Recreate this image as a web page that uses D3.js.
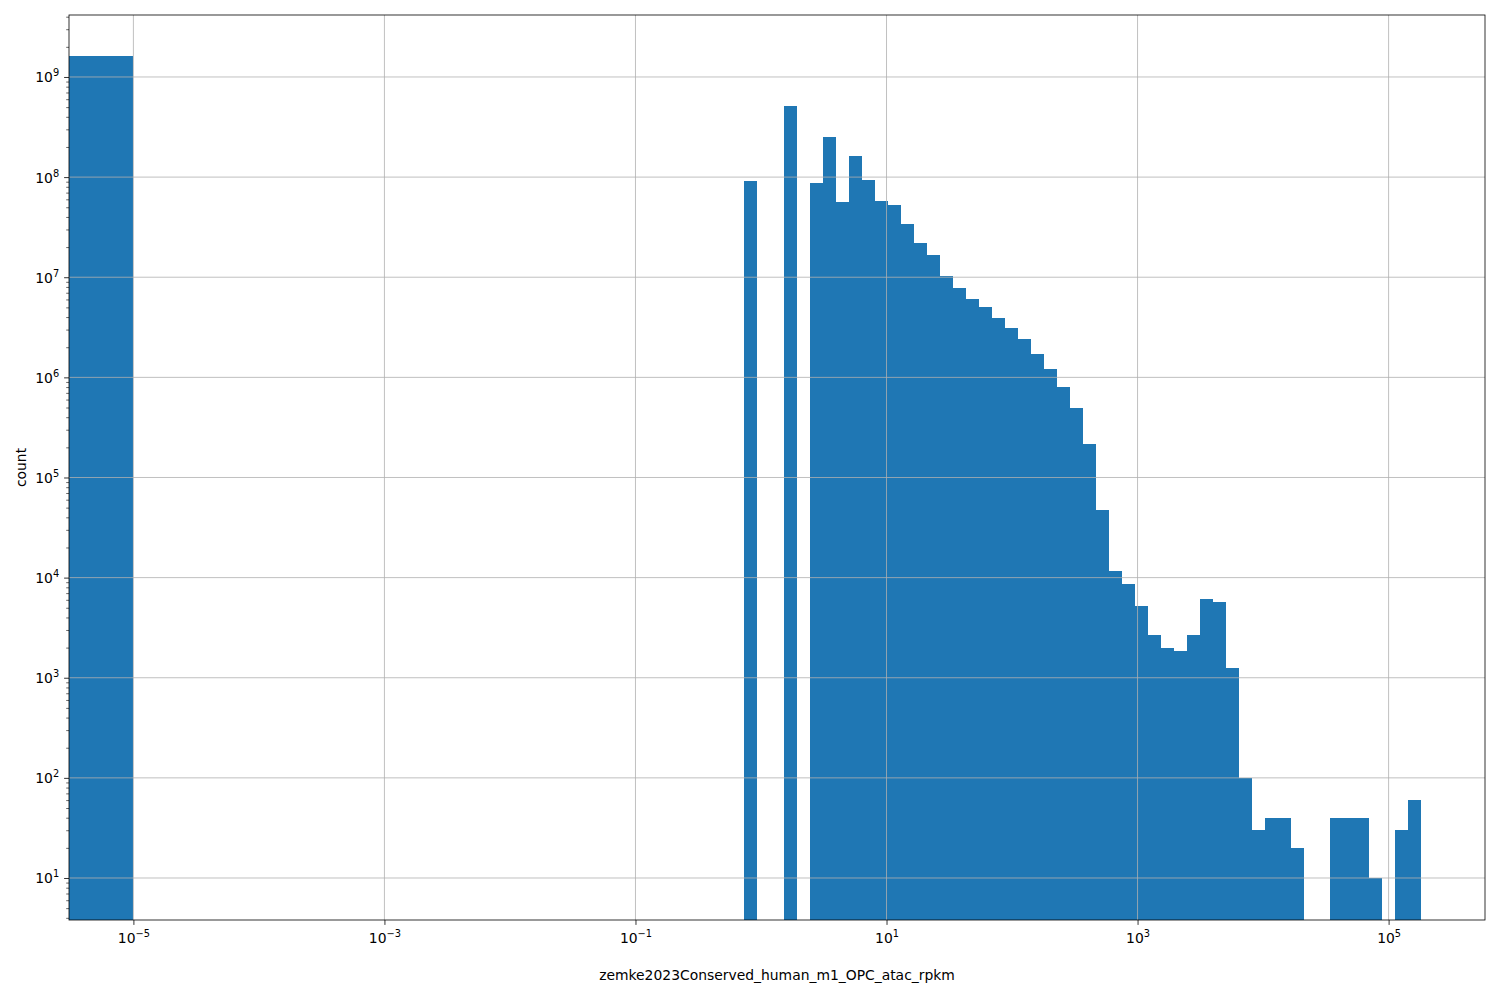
<!DOCTYPE html>
<html>
<head>
<meta charset="utf-8">
<script src="https://cdn.jsdelivr.net/npm/d3@7"></script>
<style>
  body { margin: 0; background: #fff; }
  text { font-family: "DejaVu Sans", sans-serif; }
</style>
</head>
<body>
<svg id="chart" width="1500" height="1000"></svg>
<script>
// ---- data ----
// histogram: first bin [0, 1e-5], then 99 log-spaced bins from 1e-5 to ~1.8e5
const zeroBinUpper = 1e-5;
const zeroBinCount = 1.62e9;
const logBinStart = -5;       // log10 of first log-bin edge
const logBinEnd = 5.255;      // log10 of last log-bin edge
const nLogBins = 99;
// non-empty log bins: index and count
const binIndex = [47, 50, 52, 53, 54, 55, 56, 57, 58, 59, 60, 61, 62, 63, 64, 65, 66, 67, 68, 69,
                  70, 71, 72, 73, 74, 75, 76, 77, 78, 79, 80, 81, 82, 83, 84, 85, 86, 87, 88, 89,
                  92, 93, 94, 95, 97, 98];
const binCount = [9.1e7, 5.1e8, 8.7e7, 2.5e8, 5.6e7, 1.62e8, 9.3e7, 5.8e7, 5.3e7, 3.4e7,
                  2.2e7, 1.66e7, 1.02e7, 7.8e6, 6.1e6, 5.0e6, 3.9e6, 3.1e6, 2.4e6, 1.7e6,
                  1.2e6, 8.1e5, 4.9e5, 2.14e5, 4.7e4, 1.16e4, 8.6e3, 5.2e3, 2.7e3, 1.96e3,
                  1.84e3, 2.66e3, 6.1e3, 5.7e3, 1.24e3, 100, 30, 40, 40, 20,
                  40, 40, 40, 10, 30, 60];
const xTickExps = [-5, -3, -1, 1, 3, 5];
const yTickExps = [1, 2, 3, 4, 5, 6, 7, 8, 9];
const xLabel = "zemke2023Conserved_human_m1_OPC_atac_rpkm";
const yLabel = "count";

// ---- layout ----
const L = 69, R = 1485, T = 15, B = 920;
const svg = d3.select("#chart");
const x = d3.scaleLog().domain([Math.pow(10, -5.513), Math.pow(10, 5.768)]).range([L, R]);
const y = d3.scaleLog().domain([Math.pow(10, 0.5805), Math.pow(10, 9.619)]).range([B, T]);

svg.append("defs").append("clipPath").attr("id", "clip")
  .append("rect").attr("x", L).attr("y", T).attr("width", R - L).attr("height", B - T);

const binW = (logBinEnd - logBinStart) / nLogBins;
const bars = binIndex.map((idx, k) => ({
  x0: Math.pow(10, logBinStart + idx * binW),
  x1: Math.pow(10, logBinStart + (idx + 1) * binW),
  c: binCount[k]
}));

const g = svg.append("g").attr("clip-path", "url(#clip)").attr("shape-rendering", "crispEdges");
// zero bin (left edge at 0 -> extends past the left limit)
g.append("rect")
  .attr("x", L - 5).attr("width", x(zeroBinUpper) - (L - 5))
  .attr("y", y(zeroBinCount)).attr("height", B - y(zeroBinCount))
  .attr("fill", "#1f77b4");
g.selectAll("rect.bar").data(bars).join("rect")
  .attr("class", "bar")
  .attr("x", d => Math.round(x(d.x0)))
  .attr("width", d => Math.round(x(d.x1)) - Math.round(x(d.x0)))
  .attr("y", d => y(d.c))
  .attr("height", d => B - y(d.c))
  .attr("fill", "#1f77b4");

// grid
const grid = svg.append("g");
xTickExps.forEach(e => {
  const px = x(Math.pow(10, e));
  grid.append("line").attr("x1", px).attr("x2", px).attr("y1", T).attr("y2", B)
    .attr("stroke", "#b0b0b0").attr("stroke-width", 0.8);
});
yTickExps.forEach(e => {
  const py = y(Math.pow(10, e));
  grid.append("line").attr("x1", L).attr("x2", R).attr("y1", py).attr("y2", py)
    .attr("stroke", "#b0b0b0").attr("stroke-width", 0.8);
});

// axes
const xAxis = d3.axisBottom(x).tickValues(xTickExps.map(e => Math.pow(10, e)))
  .tickSize(4.9).tickPadding(4.9).tickFormat(() => "");
const xg = svg.append("g").attr("transform", `translate(0,${B})`).call(xAxis);
xg.select(".domain").remove();
xg.selectAll(".tick line").attr("stroke", "#000").attr("stroke-width", 0.8);
xg.selectAll(".tick text").each(function(d) {
  const e = Math.round(Math.log10(d));
  const t = d3.select(this).attr("font-size", 13.9).attr("fill", "#000")
    .attr("font-family", "DejaVu Sans").attr("y", 23).attr("dy", null);
  t.append("tspan").text("10");
  t.append("tspan").attr("font-size", 9.8).attr("dy", -6).text(e < 0 ? "\u2212" + (-e) : String(e));
});

// y minor ticks
const yMinor = [];
for (let e = 0; e <= 9; e++) for (let k = 2; k <= 9; k++) {
  const v = k * Math.pow(10, e);
  if (v >= y.domain()[0] && v <= y.domain()[1]) yMinor.push(v);
}
const yAxisMinor = d3.axisLeft(y).tickValues(yMinor).tickSize(2.8).tickFormat(() => "");
const ygm = svg.append("g").attr("transform", `translate(${L},0)`).call(yAxisMinor);
ygm.select(".domain").remove();
ygm.selectAll(".tick line").attr("stroke", "#000").attr("stroke-width", 0.6);

const yAxis = d3.axisLeft(y).tickValues(yTickExps.map(e => Math.pow(10, e)))
  .tickSize(4.9).tickPadding(4.9).tickFormat(() => "");
const yg = svg.append("g").attr("transform", `translate(${L},0)`).call(yAxis);
yg.select(".domain").remove();
yg.selectAll(".tick line").attr("stroke", "#000").attr("stroke-width", 0.8);
yg.selectAll(".tick text").each(function(d) {
  const e = Math.round(Math.log10(d));
  const t = d3.select(this).attr("font-size", 13.9).attr("fill", "#000")
    .attr("font-family", "DejaVu Sans").attr("dy", null).attr("y", 5);
  t.append("tspan").text("10");
  t.append("tspan").attr("font-size", 9.8).attr("dy", -6).text(String(e));
});

// frame
svg.append("rect").attr("x", L).attr("y", T).attr("width", R - L).attr("height", B - T)
  .attr("fill", "none").attr("stroke", "#000").attr("stroke-width", 0.8);

// labels
svg.append("text").attr("x", (L + R) / 2).attr("y", 980).attr("text-anchor", "middle")
  .attr("font-size", 13.9).attr("fill", "#000").text(xLabel);
svg.append("text").attr("transform", `translate(26,${(T + B) / 2}) rotate(-90)`)
  .attr("text-anchor", "middle").attr("font-size", 13.9).attr("fill", "#000").text(yLabel);
</script>
</body>
</html>
